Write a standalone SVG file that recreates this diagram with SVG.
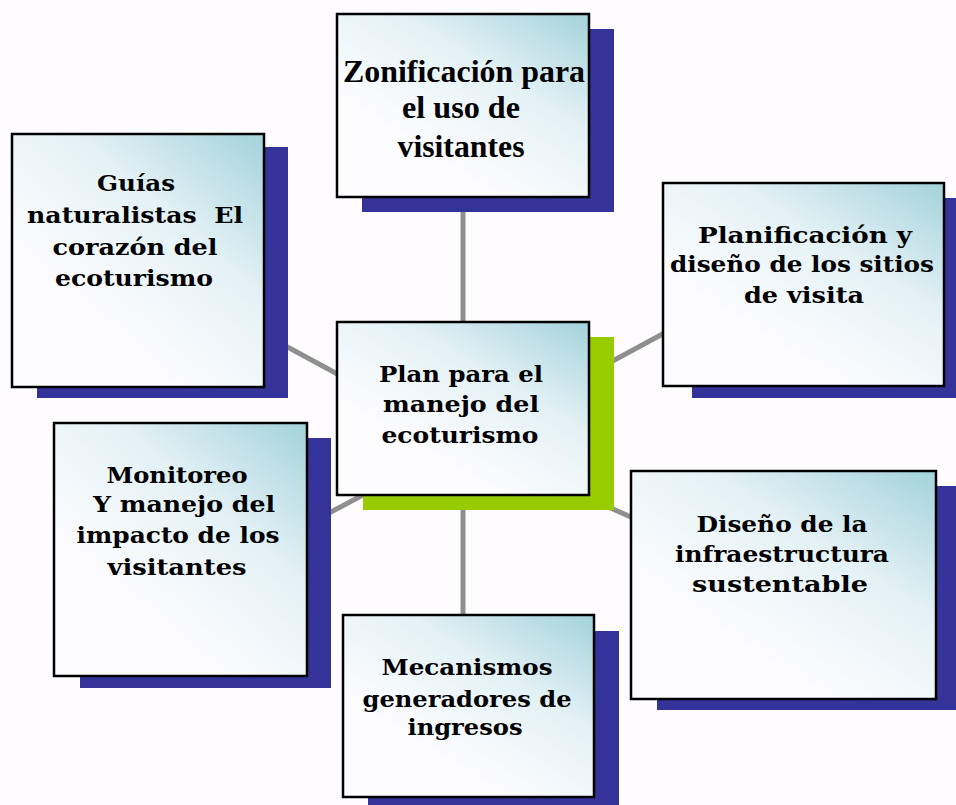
<svg xmlns="http://www.w3.org/2000/svg" width="956" height="805" viewBox="0 0 956 805">
<defs>
<linearGradient id="g" x1="1" y1="0" x2="0.35" y2="0.75">
<stop offset="0" stop-color="#a3d2db"/>
<stop offset="0.5" stop-color="#e4f2f5"/>
<stop offset="1" stop-color="#fdfcff"/>
</linearGradient>
<style>
.box{fill:url(#g);stroke:#000;stroke-width:2.5}
.sh{fill:#333399}
.shg{fill:#99cc00}
.t{font-family:"DejaVu Serif","Liberation Serif",serif;font-weight:bold;font-size:23px;fill:#000;text-anchor:middle}
.tz{font-family:"Liberation Serif","DejaVu Serif",serif;font-weight:bold;font-size:32px;fill:#000;text-anchor:middle}
.c{stroke:#8f8f8f;stroke-width:5;fill:none}
</style>
</defs>
<rect width="956" height="805" fill="#fefcff"/>
<g id="connectors">
<line class="c" x1="463" y1="100" x2="463" y2="705"/>
<line class="c" x1="463" y1="442" x2="138" y2="266"/>
<line class="c" x1="463" y1="442" x2="803" y2="258"/>
<line class="c" x1="463" y1="442" x2="180" y2="592"/>
<line class="c" x1="463" y1="442" x2="783" y2="585"/>
</g>
<g id="zonificacion">
<rect class="sh" x="362" y="29" width="252" height="183"/>
<rect class="box" x="337" y="14" width="252" height="183"/>
<text class="tz" x="464" y="82" textLength="242" lengthAdjust="spacingAndGlyphs">Zonificación para</text>
<text class="tz" x="461" y="118" textLength="118" lengthAdjust="spacingAndGlyphs">el uso de</text>
<text class="tz" x="461" y="157" textLength="127" lengthAdjust="spacingAndGlyphs">visitantes</text>
</g>
<g id="guias">
<rect class="sh" x="37" y="147" width="251" height="251"/>
<rect class="box" x="12" y="134" width="252" height="253"/>
<text class="t" x="136" y="191" textLength="78" lengthAdjust="spacingAndGlyphs">Guías</text>
<text class="t" x="135" y="223" textLength="216" lengthAdjust="spacingAndGlyphs" xml:space="preserve">naturalistas  El</text>
<text class="t" x="135" y="255" textLength="165" lengthAdjust="spacingAndGlyphs">corazón del</text>
<text class="t" x="134" y="286" textLength="158" lengthAdjust="spacingAndGlyphs">ecoturismo</text>
</g>
<g id="plan-manejo">
<rect class="shg" x="363" y="337" width="251" height="173"/>
<rect class="box" x="337" y="322" width="252" height="173"/>
<text class="t" x="461" y="382" textLength="164" lengthAdjust="spacingAndGlyphs">Plan para el</text>
<text class="t" x="461" y="412" textLength="156" lengthAdjust="spacingAndGlyphs">manejo del</text>
<text class="t" x="460" y="443" textLength="157" lengthAdjust="spacingAndGlyphs">ecoturismo</text>
</g>
<g id="planificacion">
<rect class="sh" x="692" y="198" width="281" height="200"/>
<rect class="box" x="663" y="183" width="281" height="203"/>
<text class="t" x="805" y="243" textLength="214" lengthAdjust="spacingAndGlyphs">Planificación y</text>
<text class="t" x="802" y="272" textLength="264" lengthAdjust="spacingAndGlyphs">diseño de los sitios</text>
<text class="t" x="804" y="303" textLength="120" lengthAdjust="spacingAndGlyphs">de visita</text>
</g>
<g id="diseno">
<rect class="sh" x="657" y="486" width="305" height="224"/>
<rect class="box" x="631" y="471" width="305" height="228"/>
<text class="t" x="782" y="532" textLength="171" lengthAdjust="spacingAndGlyphs">Diseño de la</text>
<text class="t" x="782" y="562" textLength="214" lengthAdjust="spacingAndGlyphs">infraestructura</text>
<text class="t" x="780" y="592" textLength="176" lengthAdjust="spacingAndGlyphs">sustentable</text>
</g>
<g id="monitoreo">
<rect class="sh" x="80" y="438" width="251" height="250"/>
<rect class="box" x="54" y="423" width="253" height="253"/>
<text class="t" x="177" y="483" textLength="141" lengthAdjust="spacingAndGlyphs">Monitoreo</text>
<text class="t" x="184" y="512" textLength="182" lengthAdjust="spacingAndGlyphs">Y manejo del</text>
<text class="t" x="178" y="543" textLength="203" lengthAdjust="spacingAndGlyphs">impacto de los</text>
<text class="t" x="177" y="575" textLength="139" lengthAdjust="spacingAndGlyphs">visitantes</text>
</g>
<g id="mecanismos">
<rect class="sh" x="368" y="631" width="251" height="180"/>
<rect class="box" x="343" y="615" width="251" height="182"/>
<text class="t" x="467" y="675" textLength="171" lengthAdjust="spacingAndGlyphs">Mecanismos</text>
<text class="t" x="467" y="707" textLength="209" lengthAdjust="spacingAndGlyphs">generadores de</text>
<text class="t" x="465" y="735" textLength="115" lengthAdjust="spacingAndGlyphs">ingresos</text>
</g>
</svg>
